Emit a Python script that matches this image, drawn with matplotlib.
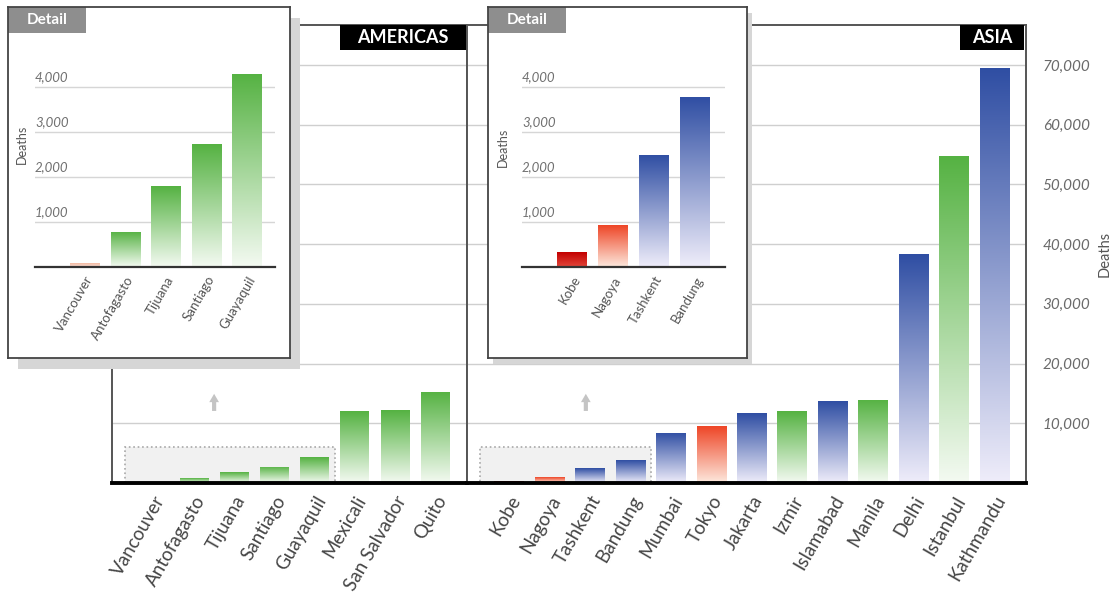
import numpy as np
import matplotlib
matplotlib.use("Agg")
import matplotlib.pyplot as plt
import matplotlib.transforms as mtransforms
from matplotlib.colors import LinearSegmentedColormap
from matplotlib.patches import Rectangle

plt.rcParams['font.family'] = ['Lato', 'DejaVu Sans']

# estimated earthquake deaths per city, sorted within each region
americas_cities = ['Vancouver', 'Antofagasto', 'Tijuana', 'Santiago', 'Guayaquil',
                   'Mexicali', 'San Salvador', 'Quito']
americas_deaths = [100, 780, 1800, 2730, 4290, 12000, 12200, 15300]
americas_colors = ['salmon', 'green', 'green', 'green', 'green', 'green', 'green', 'green']

asia_cities = ['Kobe', 'Nagoya', 'Tashkent', 'Bandung', 'Mumbai', 'Tokyo', 'Jakarta',
               'Izmir', 'Islamabad', 'Manila', 'Delhi', 'Istanbul', 'Kathmandu']
asia_deaths = [330, 930, 2490, 3780, 8400, 9500, 11700, 12000, 13700, 13900,
               38300, 54800, 69500]
asia_colors = ['red', 'orange', 'blue', 'blue', 'blue', 'orange', 'blue', 'green',
               'blue', 'green', 'blue', 'green', 'blue']

# how many of the smallest cities get repeated in the detail box
americas_detail = 5
asia_detail = 4
detail_ceiling = 6000

main_ticks = [10000, 20000, 30000, 40000, 50000, 60000, 70000]
detail_ticks = [1000, 2000, 3000, 4000]

# (top, bottom) colour of each bar gradient
palette = {
    'green': ('#55b242', '#f4faf2'),
    'blue': ('#2f4ea3', '#efedfa'),
    'orange': ('#ee4526', '#fde9de'),
    'red': ('#c20000', '#e2463a'),
    'salmon': ('#f1ae94', '#fbe4da'),
}

W, H = 1116, 595
fig = plt.figure(figsize=(W / 100, H / 100), dpi=100)


def px_axes(x0, y0, x1, y1, **kw):
    return fig.add_axes([x0 / W, 1 - y1 / H, (x1 - x0) / W, (y1 - y0) / H], **kw)


grad = np.linspace(0, 1, 256).reshape(-1, 1)


def gradient_bars(ax, values, colors, width):
    bars = ax.bar(np.arange(len(values)), values, width=width,
                  color='none', edgecolor='none', zorder=3)
    for bar, key in zip(bars, colors):
        top, bottom = palette[key]
        cmap = LinearSegmentedColormap.from_list(key, [bottom, top])
        x0 = bar.get_x()
        img = ax.imshow(grad, cmap=cmap, origin='lower', aspect='auto',
                        extent=(x0, x0 + bar.get_width(), 0, bar.get_height()),
                        interpolation='bilinear', zorder=3)
        img.set_clip_path(bar)
    return bars


def main_panel(ax, cities, deaths, colors, n_detail, arrow_x):
    gradient_bars(ax, deaths, colors, 0.72)
    ax.set_xlim(-1.04, len(cities) - 0.21)
    ax.set_ylim(0, 76700)
    ax.set_yticks(main_ticks)
    ax.grid(axis='y', color='#cfcfcf', lw=1)
    ax.set_axisbelow(True)
    ax.set_xticks(range(len(cities)))
    ax.set_xticklabels(cities, rotation=60, ha='right', rotation_mode='anchor',
                       fontsize=13.5, color='#454545')
    ax.tick_params(length=0, pad=7)
    for side in ['left', 'top', 'right']:
        ax.spines[side].set_color('#555555')
        ax.spines[side].set_linewidth(1.4)
    ax.spines['bottom'].set_color('black')
    ax.spines['bottom'].set_linewidth(2.8)
    ax.spines['bottom'].set_zorder(5)
    # dotted box marking the bars shown in the detail inset
    ax.add_patch(Rectangle((-0.72, 0), n_detail - 0.5 + 0.72, detail_ceiling,
                           fc='#f1f1f1', ec='#a8a8a8', ls=':', lw=1.2, zorder=2))
    ax.annotate('', xy=(arrow_x, 15400), xytext=(arrow_x, 11600),
                arrowprops=dict(arrowstyle='simple,head_width=0.7,head_length=0.6,tail_width=0.3',
                                color='#c4c4c4', lw=0))


def title_tag(ax, text, x0):
    ax.add_patch(Rectangle((x0, 0.945), 0.997 - x0, 0.055, transform=ax.transAxes,
                           fc='black', ec='none', zorder=6, clip_on=False))
    ax.text((x0 + 0.997) / 2, 0.972, text, transform=ax.transAxes, ha='center',
            va='center', color='white', fontsize=13, weight='bold', zorder=7)


ax_am = px_axes(112, 25, 467, 483)
main_panel(ax_am, americas_cities, americas_deaths, americas_colors, americas_detail, 1.5)
ax_am.set_yticklabels([])
title_tag(ax_am, 'AMERICAS', 0.642)

ax_as = px_axes(467, 25, 1026, 483)
main_panel(ax_as, asia_cities, asia_deaths, asia_colors, asia_detail, 1.9)
ax_as.yaxis.tick_right()
ax_as.set_yticklabels([f'{v:,}' for v in main_ticks], style='italic',
                      fontsize=11, color='#6a6a6a')
ax_as.tick_params(axis='y', pad=12)
ax_as.yaxis.set_label_position('right')
ax_as.set_ylabel('Deaths', fontsize=10.5, color='#555555', labelpad=5)
title_tag(ax_as, 'ASIA', 0.882)


def detail_inset(box_px, inner_px, cities, deaths, colors, xlim, ylabel_pos, drop):
    x0, y0, x1, y1 = box_px
    shadow = Rectangle(((x0 + drop) / W, 1 - (y1 + drop + 1) / H), (x1 - x0) / W, (y1 - y0) / H,
                       transform=fig.transFigure, fc='#d6d6d6', ec='none', zorder=2)
    fig.add_artist(shadow)

    box = px_axes(*box_px, zorder=3)
    box.set_xticks([])
    box.set_yticks([])
    for s in box.spines.values():
        s.set_color('#444444')
        s.set_linewidth(1.3)
    tab_w = 78 / (x1 - x0)
    tab_h = 26 / (y1 - y0)
    box.add_patch(Rectangle((0, 1 - tab_h), tab_w, tab_h, transform=box.transAxes,
                            fc='#8e8e8e', ec='none'))
    box.text(tab_w / 2, 1 - tab_h / 2, 'Detail', transform=box.transAxes, ha='center',
             va='center', color='white', fontsize=11, weight='bold')

    ax = px_axes(*inner_px, zorder=4)
    ax.patch.set_alpha(0)
    gradient_bars(ax, deaths, colors, 0.72)
    ax.set_xlim(*xlim)
    ax.set_ylim(0, 4600)
    for v in detail_ticks:
        ax.axhline(v, color='#d6d6d6', lw=1, zorder=1)
    trans = mtransforms.offset_copy(ax.get_yaxis_transform(), fig=fig, y=4, units='dots')
    for v in detail_ticks:
        ax.text(0.0, v, f'{v:,}', transform=trans, ha='left', va='bottom',
                style='italic', fontsize=9.5, color='#707070')
    ax.set_yticks([])
    ax.set_xticks(range(len(cities)))
    ax.set_xticklabels(cities, rotation=60, ha='right', rotation_mode='anchor',
                       fontsize=9.5, color='#555555')
    ax.tick_params(length=0, pad=5)
    for side in ['left', 'top', 'right']:
        ax.spines[side].set_visible(False)
    ax.spines['bottom'].set_color('#333333')
    ax.spines['bottom'].set_linewidth(1.6)
    ax.spines['bottom'].set_zorder(5)
    ax.set_ylabel('Deaths', fontsize=9, color='#555555')
    ax.yaxis.set_label_coords(*ylabel_pos)


detail_inset((8, 7, 290, 358), (35, 60, 275, 267),
             americas_cities[:americas_detail], americas_deaths[:americas_detail],
             americas_colors[:americas_detail], (-1.23, 4.69), (-0.03, 0.59), 10)
detail_inset((488, 7, 747, 358), (522, 60, 725, 267),
             asia_cities[:asia_detail], asia_deaths[:asia_detail],
             asia_colors[:asia_detail], (-1.22, 3.73), (-0.064, 0.58), 5)

fig.savefig('out.png', dpi=100)
